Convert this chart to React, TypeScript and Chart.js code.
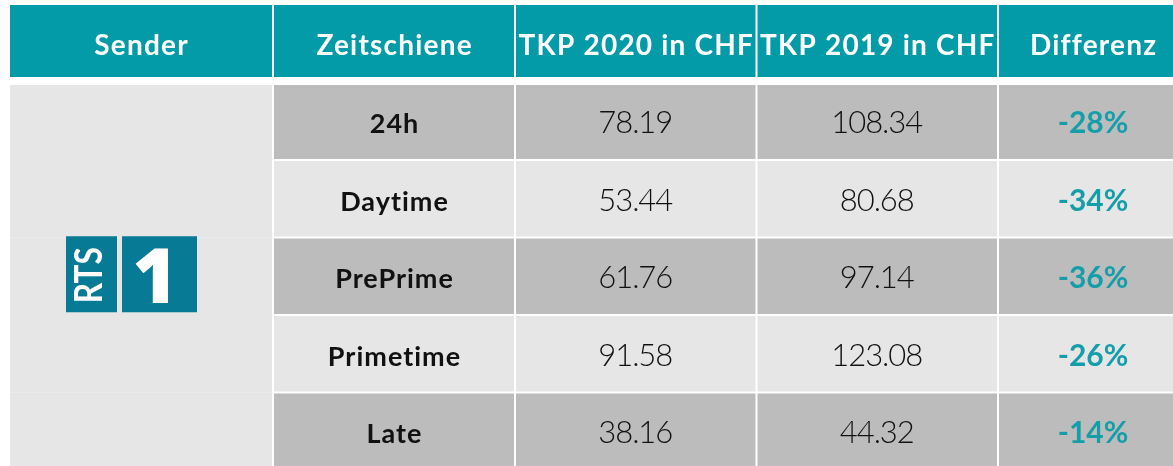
import React, { useEffect, useRef } from "react";
import { Chart, registerables } from "chart.js";

Chart.register(...registerables);

// ---------- data ----------
const HEADERS = ["Sender", "Zeitschiene", "TKP 2020 in CHF", "TKP 2019 in CHF", "Differenz"];
const SENDER_LOGO = ["RTS", "1"];
const ZEITSCHIENEN = ["24h", "Daytime", "PrePrime", "Primetime", "Late"];
const TKP_2020 = [78.19, 53.44, 61.76, 91.58, 38.16];
const TKP_2019 = [108.34, 80.68, 97.14, 123.08, 44.32];
const DIFFERENZ = [-28, -34, -36, -26, -14];

// ---------- layout / style ----------
const ROWS = ["Header", ...ZEITSCHIENEN];
const COL_EDGES = [9, 273, 515, 756.5, 998, 1188];
const CANVAS_W = 1200;
const CANVAS_H = 470;
const VIEW_W = 1173;
const VIEW_H = 466;

const TEAL = "#029ba7";
const DARK = "#bcbcbc";
const LIGHT = "#e6e6e6";
const LOGO = "#077a95";
const DIFF_COLOR = "#149ea9";
const FONT = "Lato, 'Open Sans', sans-serif";

const cellColor = (row: number, col: number) => {
  if (row === 0) return TEAL;
  if (col === 0) return LIGHT;
  return row % 2 === 1 ? DARK : LIGHT;
};

const cellBorder = (row: number, col: number) => {
  if (row === 0) return { top: 0, bottom: 5.5, left: 1, right: 1 };
  if (col === 0) return { top: row === 1 ? 3 : 0, bottom: 0, left: 1.5, right: 1.5 };
  return { top: row === 1 ? 2.5 : 1, bottom: 1, left: 1, right: 1 };
};

const setSpacing = (ctx: any, v: string) => {
  if ("letterSpacing" in ctx) ctx.letterSpacing = v;
};

const tablePlugin = {
  id: "tableText",
  afterDatasetsDraw(chart: any) {
    const { ctx, scales } = chart;
    const x = scales.x;
    const y = scales.y;
    const colCenter = (j: number) => x.getPixelForValue((COL_EDGES[j] + COL_EDGES[j + 1]) / 2);
    ctx.save();
    ctx.textAlign = "center";
    ctx.textBaseline = "alphabetic";

    // header
    const hy = y.getPixelForValue(0);
    ctx.fillStyle = "#ffffff";
    ctx.font = `700 28px ${FONT}`;
    setSpacing(ctx, "1.2px");
    HEADERS.forEach((h, j) => ctx.fillText(h, colCenter(j) + 0.6, hy + 11));

    // body
    ZEITSCHIENEN.forEach((z, i) => {
      const cy = y.getPixelForValue(i + 1) + 12;
      ctx.fillStyle = "#111111";
      ctx.font = `700 27px ${FONT}`;
      setSpacing(ctx, "1px");
      ctx.fillText(z, colCenter(1) + 0.5, cy);
      ctx.font = `300 31px ${FONT}`;
      setSpacing(ctx, "-1px");
      ctx.fillText(TKP_2020[i].toFixed(2), colCenter(2) - 0.5, cy);
      ctx.fillText(TKP_2019[i].toFixed(2), colCenter(3) - 0.5, cy);
      ctx.fillStyle = DIFF_COLOR;
      ctx.font = `700 30px ${FONT}`;
      setSpacing(ctx, "0px");
      ctx.fillText(`${DIFFERENZ[i]}%`, colCenter(4), cy);
    });

    // RTS 1 logo in Sender column
    const lx = colCenter(0) - 9.5;
    const ly = y.getPixelForValue(3) - 2;
    ctx.fillStyle = LOGO;
    ctx.fillRect(lx - 65.5, ly - 38, 51, 76);
    ctx.fillRect(lx - 9.5, ly - 38, 75, 76);

    ctx.fillStyle = "#ffffff";
    ctx.save();
    ctx.translate(lx - 44, ly + 1);
    ctx.rotate(-Math.PI / 2);
    ctx.font = `700 38px ${FONT}`;
    const w = ctx.measureText(SENDER_LOGO[0]).width;
    ctx.scale(56 / w, 1);
    ctx.textAlign = "center";
    ctx.fillText(SENDER_LOGO[0], 0, 14.5);
    ctx.restore();

    ctx.font = `800 77px 'Open Sans', sans-serif`;
    ctx.textAlign = "center";
    ctx.fillText(SENDER_LOGO[1], lx + 23.5, ly + 29);
    ctx.restore();
  },
};

export default function App() {
  const canvasRef = useRef<HTMLCanvasElement | null>(null);

  useEffect(() => {
    document.body.style.margin = "0";
    const canvas = canvasRef.current;
    if (!canvas) return;
    const datasets = HEADERS.map((_, col) => ({
      label: HEADERS[col],
      data: ROWS.map(() => [COL_EDGES[col], COL_EDGES[col + 1]] as [number, number]),
      backgroundColor: (c: any) => cellColor(c.dataIndex, col),
      borderColor: "#ffffff",
      borderWidth: (c: any) => cellBorder(c.dataIndex, col),
      borderSkipped: false as const,
      inflateAmount: (c: any) => (col === 0 && c.dataIndex > 0 ? 0.5 : 0),
      barPercentage: 1,
      categoryPercentage: 1,
      grouped: false,
    }));
    const chart = new Chart(canvas, {
      type: "bar",
      data: { labels: ROWS, datasets: datasets as any },
      options: {
        indexAxis: "y",
        animation: false,
        responsive: false,
        devicePixelRatio: 1,
        layout: { padding: { top: 5, left: 0, right: 0, bottom: 0 } },
        events: [],
        plugins: { legend: { display: false }, tooltip: { enabled: false } },
        scales: {
          x: { type: "linear", min: 0, max: CANVAS_W, display: false },
          y: { type: "category", display: false, offset: true },
        },
      },
      plugins: [tablePlugin],
    });
    return () => chart.destroy();
  }, []);

  return (
    <div style={{ width: VIEW_W, height: VIEW_H, overflow: "hidden", position: "relative", background: "#ffffff" }}>
      <canvas ref={canvasRef} width={CANVAS_W} height={CANVAS_H} style={{ display: "block" }} />
    </div>
  );
}
